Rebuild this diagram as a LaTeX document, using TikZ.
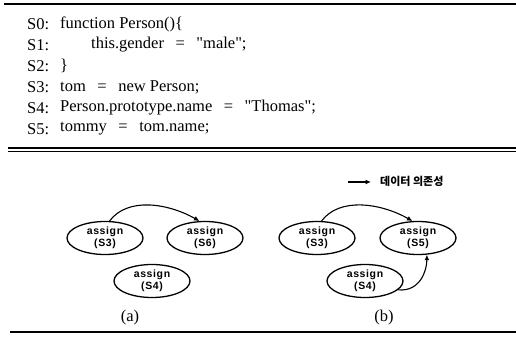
\documentclass[tikz,border=0pt]{standalone}
\usepackage{fontspec}
\setmainfont{Liberation Serif}[Ligatures=TeXOff]
\newfontfamily\lab{Liberation Sans}[LetterSpace=6]
\newfontfamily\kr{Noto Sans CJK KR}
\usetikzlibrary{shapes.geometric,arrows.meta}
\newcommand{\eq}{\hspace{0.7em}=\hspace{0.7em}}
\begin{document}
\begin{tikzpicture}[x=1pt,y=-1pt,
  code/.style={anchor=west,inner sep=0pt,font=\fontsize{16.5}{18}\selectfont},
  stnode/.style={draw,ellipse,line width=1.3pt,minimum width=76pt,minimum height=33pt,inner sep=0pt,align=center,font=\lab\bfseries\fontsize{10.5}{12.5}\selectfont},
  dep/.style={line width=1.1pt,-{Latex[length=5.5pt,width=5pt]}},
  captext/.style={font=\fontsize{16.5}{18}\selectfont,inner sep=0pt}]
\useasboundingbox (0,0) rectangle (516,337);
% rules
\draw[line width=2.6pt] (4,4) -- (516,4);
\draw[line width=2pt] (8,148) -- (516,148);
\draw[line width=0.6pt] (8,151.5) -- (516,151.5);
\draw[line width=2pt] (10,332) -- (516,332);
% code
\node[code] (l0) at (27,24) {S0:};
\node[code] (c0) at (60,24) {function Person()\{};
\node[code] (l1) at (27,45) {S1:};
\node[code] (c1) at (91,45) {this.gender\eq"male";};
\node[code] (l2) at (27,66) {S2:};
\node[code] (c2) at (60,66) {\}};
\node[code] (l3) at (27,87) {S3:};
\node[code] (c3) at (60,87) {tom\eq new Person;};
\node[code] (l4) at (27,108) {S4:};
\node[code] (c4) at (60,108) {Person.prototype.name\eq"Thomas";};
\node[code] (l5) at (27,129) {S5:};
\node[code] (c5) at (60,129) {tommy\eq tom.name;};
% legend
\coordinate (la) at (348,182);
\coordinate (lb) at (371,182);
\draw[dep] (la) -- (lb);
\node[anchor=west,inner sep=0pt,font=\kr\bfseries\fontsize{11}{12}\selectfont] (lt) at (380,181) {데이터 의존성};
% graph (a)
\node[stnode] (a3) at (105,238) {assign\\(S3)};
\node[stnode] (a6) at (205,238) {assign\\(S6)};
\node[stnode] (a4) at (152,281) {assign\\(S4)};
\draw[dep] (a3.75) .. controls +(18,-24) and +(-32,-18) .. (a6.108);
\node[captext] (ca) at (130,318) {(a)};
% graph (b)
\node[stnode] (b3) at (317,238) {assign\\(S3)};
\node[stnode] (b5) at (418,238) {assign\\(S5)};
\node[stnode] (b4) at (365,281) {assign\\(S4)};
\draw[dep] (b3.75) .. controls +(18,-24) and +(-32,-18) .. (b5.108);
\draw[dep] (b4.-15) .. controls +(22,2) and +(0,16) .. (b5.-62);
\node[captext] (cb) at (384,318) {(b)};
\end{tikzpicture}
\end{document}
